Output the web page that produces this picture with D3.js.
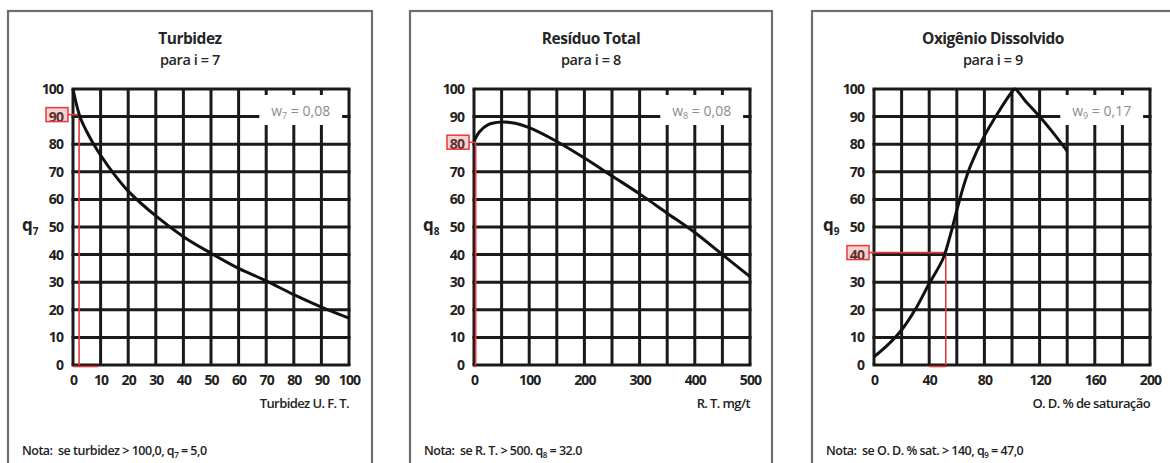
<!DOCTYPE html>
<html>
<head>
<meta charset="utf-8">
<script src="https://cdn.jsdelivr.net/npm/d3@7"></script>
<style>
  body { margin: 0; background: #fff; }
  svg { display: block; font-family: "Open Sans", "DejaVu Sans", sans-serif; }
  text { white-space: pre; }
</style>
</head>
<body>
<script>
// curves
var turbX = [0, 2.5, 5, 7.5, 10, 15, 20, 30, 40, 50, 60, 70, 80, 90, 100];
var turbQ = [100, 90, 84.5, 80, 76, 69, 63, 54, 46.5, 40.5, 35, 30.5, 25.5, 21, 17];

var resX = [0, 10, 25, 50, 75, 100, 150, 200, 250, 300, 350, 400, 450, 500];
var resQ = [81, 84.5, 87, 88, 87.6, 86, 81, 75, 68.5, 62, 55, 48, 40, 32];

var odX = [0, 10, 20, 30, 40, 50, 55, 60, 65, 70, 80, 90, 100, 102, 110, 120, 130, 140];
var odQ = [3, 7.3, 12.7, 20.2, 29.5, 38.5, 46.5, 56, 65, 72.3, 83, 91.5, 99, 100, 95.5, 90, 84, 77.5];

var qTicks = [0, 10, 20, 30, 40, 50, 60, 70, 80, 90, 100];
var turbTicks = [0, 10, 20, 30, 40, 50, 60, 70, 80, 90, 100];
var resTicks = [0, 100, 200, 300, 400, 500];
var odTicks = [0, 40, 80, 120, 160, 200];
var xMax = [100, 500, 200];

var titles = ["Turbidez", "Resíduo Total", "Oxigênio Dissolvido"];
var index = ["7", "8", "9"];
var weights = ["0,08", "0,08", "0,17"];
var xTitles = ["Turbidez U. F. T.", "R. T. mg/t", "O. D. % de saturação"];
var notes = [
  ["Nota:  se turbidez > 100,0, q", " = 5,0"],
  ["Nota:  se R. T. > 500. q", " = 32.0"],
  ["Nota:  se O. D. % sat. > 140, q", " = 47,0"]
];

// red reading markers
var markX = [2.2, 3, 52];
var markQ = [90, 80, 40];
var markBaseFrom = [0, 0, 40];
var markBaseTo = [9, 3, 52];

var panels = [
  {xs: turbX, qs: turbQ, ticks: turbTicks},
  {xs: resX, qs: resQ, ticks: resTicks},
  {xs: odX, qs: odQ, ticks: odTicks}
];

var boxLeft = [8, 410, 812],
    boxWidth = [364, 362, 362],
    plotLeft = [73, 474, 874],
    plotTop = 89,
    size = 276;

var svg = d3.select("body").append("svg")
    .attr("width", 1170)
    .attr("height", 463);

panels.forEach(function(p, i) {
  var box = svg.append("g");

  // panel frame
  box.append("rect")
      .attr("x", boxLeft[i])
      .attr("y", 11)
      .attr("width", boxWidth[i])
      .attr("height", 470)
      .attr("fill", "#fff")
      .attr("stroke", "#6e6e6e")
      .attr("stroke-width", 2.2);

  var cx = boxLeft[i] + boxWidth[i] / 2;
  box.append("text")
      .attr("x", cx).attr("y", 44)
      .attr("text-anchor", "middle")
      .style("font-size", "15.5px").style("font-weight", 700)
      .style("letter-spacing", "-0.5px")
      .attr("fill", "#262626")
      .text(titles[i]);
  box.append("text")
      .attr("x", cx).attr("y", 65)
      .attr("text-anchor", "middle")
      .style("font-size", "14.5px").style("font-weight", 600)
      .style("letter-spacing", "-0.4px")
      .attr("fill", "#262626")
      .text("para i = " + index[i]);

  var g = box.append("g")
      .attr("transform", "translate(" + plotLeft[i] + "," + plotTop + ")");

  var x = d3.scaleLinear().domain([0, xMax[i]]).range([0, size]);
  var y = d3.scaleLinear().domain([0, 100]).range([size, 0]);

  // grid
  var ink = "#1a1a1a";
  g.selectAll(".vgrid")
      .data(x.ticks(10))
      .enter().append("line")
      .attr("x1", function(d) { return x(d); })
      .attr("x2", function(d) { return x(d); })
      .attr("y1", 0).attr("y2", size)
      .attr("stroke", ink).attr("stroke-width", 3);
  g.selectAll(".hgrid")
      .data(qTicks)
      .enter().append("line")
      .attr("y1", function(d) { return y(d); })
      .attr("y2", function(d) { return y(d); })
      .attr("x1", -1.5).attr("x2", size + 1.5)
      .attr("stroke", ink).attr("stroke-width", 3);

  // weight label sits in a cleared patch of the grid
  g.append("rect")
      .attr("x", size * 0.675).attr("y", 6)
      .attr("width", size * 0.3).attr("height", 30)
      .attr("fill", "#fff");
  var w = g.append("text")
      .attr("x", size * 0.825).attr("y", 27)
      .attr("text-anchor", "middle")
      .style("font-size", "14px")
      .attr("fill", "#8c8c8c");
  w.append("tspan").text("w");
  w.append("tspan").attr("dy", 3).style("font-size", "9px").text(index[i]);
  w.append("tspan").attr("dy", -3).text(" = " + weights[i]);

  // y axis labels
  var yAxis = g.append("g")
      .call(d3.axisLeft(y).tickValues(qTicks).tickSize(0).tickPadding(10));
  yAxis.select(".domain").remove();
  yAxis.selectAll("text")
      .style("font-size", "14px").style("font-weight", 700)
      .style("letter-spacing", "-0.9px")
      .style("font-family", "'Open Sans', sans-serif")
      .attr("fill", "#222");

  // x axis labels
  var xAxis = g.append("g")
      .attr("transform", "translate(0," + size + ")")
      .call(d3.axisBottom(x).tickValues(p.ticks).tickSize(0).tickPadding(10));
  xAxis.select(".domain").remove();
  xAxis.selectAll("text")
      .style("font-size", "14px").style("font-weight", 700)
      .style("letter-spacing", "-0.9px")
      .style("font-family", "'Open Sans', sans-serif")
      .attr("fill", "#222");

  // axis titles
  var q = g.append("text")
      .attr("x", -51).attr("y", y(50) + 4)
      .style("font-size", "17px").style("font-weight", 700)
      .attr("fill", "#222");
  q.append("tspan").text("q");
  q.append("tspan").attr("dy", 4).style("font-size", "10px").text(index[i]);

  g.append("text")
      .attr("x", size).attr("y", size + 43)
      .attr("text-anchor", "end")
      .style("font-size", "13px").style("font-weight", 600)
      .style("letter-spacing", "-0.6px")
      .attr("fill", "#222")
      .text(xTitles[i]);

  // red reading lines
  var red = "#e23b3b";
  g.append("rect")
      .attr("x", -27).attr("y", y(markQ[i]) - 9)
      .attr("width", 22).attr("height", 14)
      .attr("fill", "rgba(235,90,90,0.28)")
      .attr("stroke", red).attr("stroke-width", 1.5);
  g.append("path")
      .attr("d", d3.line()([
        [-5, y(markQ[i]) - 2],
        [x(markX[i]), y(markQ[i]) - 2],
        [x(markX[i]), y(0)]
      ]))
      .attr("fill", "none")
      .attr("stroke", red).attr("stroke-width", 1.6);
  g.append("line")
      .attr("x1", x(markBaseFrom[i])).attr("x2", x(markBaseTo[i]))
      .attr("y1", y(0) + 1.5).attr("y2", y(0) + 1.5)
      .attr("stroke", red).attr("stroke-width", 1.6);

  // curve
  var pts = p.xs.map(function(d, k) { return [d, p.qs[k]]; });
  g.append("path")
      .datum(pts)
      .attr("d", d3.line()
        .x(function(d) { return x(d[0]); })
        .y(function(d) { return y(d[1]); })
        .curve(d3.curveCatmullRom.alpha(0.5)))
      .attr("fill", "none")
      .attr("stroke", "#111")
      .attr("stroke-width", 3)
      .attr("stroke-linejoin", "round");

  // note
  var n = box.append("text")
      .attr("x", boxLeft[i] + 14).attr("y", 455)
      .style("font-size", "12.5px").style("font-weight", 600)
      .style("letter-spacing", "-0.5px")
      .attr("fill", "#222");
  n.append("tspan").text(notes[i][0]);
  n.append("tspan").attr("dy", 3).style("font-size", "8px").text(index[i]);
  n.append("tspan").attr("dy", -3).text(notes[i][1]);
});
</script>
</body>
</html>
